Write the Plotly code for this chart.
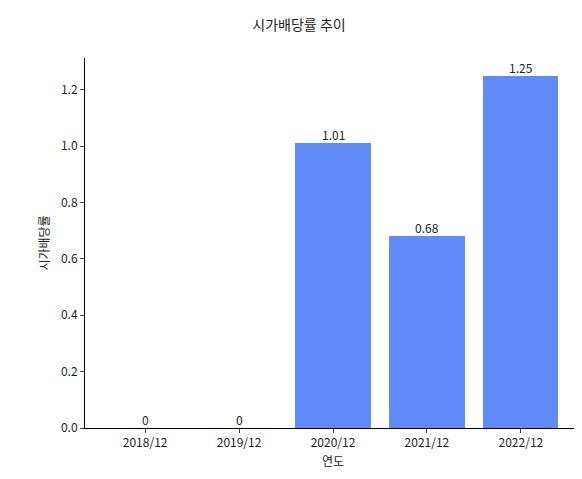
import plotly.graph_objects as go

years = ["2018/12", "2019/12", "2020/12", "2021/12", "2022/12"]
values = [0, 0, 1.01, 0.68, 1.25]
labels = ["0", "0", "1.01", "0.68", "1.25"]

fig = go.Figure(go.Bar(
    x=list(range(len(years))), y=values, width=0.8,
    marker=dict(color="#5f8af7", line=dict(width=0)),
    showlegend=False, hoverinfo="skip",
))
for i, (v, t) in enumerate(zip(values, labels)):
    fig.add_annotation(x=i, y=v, text=t, showarrow=False, yanchor="bottom",
                       yshift=-2, font=dict(size=12, color="#222"))
fig.update_layout(
    width=582, height=479,
    margin=dict(l=77, r=9, t=50, b=59, autoexpand=False),
    plot_bgcolor="white", paper_bgcolor="white",
    font=dict(family="Noto Sans CJK KR", size=12, color="#222"),
    title=dict(text="시가배당률 추이", x=0.5, xanchor="center", y=0.965, yanchor="middle",
               font=dict(size=14)),
    showlegend=False, bargap=0,
)
fig.update_xaxes(range=[-0.64, 4.64], tickvals=list(range(len(years))), ticktext=years,
                 showline=True, linecolor="black", linewidth=1, ticks="outside",
                 ticklen=4, showgrid=False, zeroline=False, automargin=False,
                 title=dict(text="연도", standoff=8, font=dict(size=12)))
fig.update_yaxes(range=[0, 1.3125], tickvals=[0, 0.2, 0.4, 0.6, 0.8, 1.0, 1.2],
                 ticktext=["0.0", "0.2", "0.4", "0.6", "0.8", "1.0", "1.2"],
                 showline=True, linecolor="black", linewidth=1, ticks="outside",
                 ticklen=4, showgrid=False, zeroline=False, automargin=False,
                 title=dict(text="시가배당률", standoff=8, font=dict(size=12)))
fig.write_html("out.html")
